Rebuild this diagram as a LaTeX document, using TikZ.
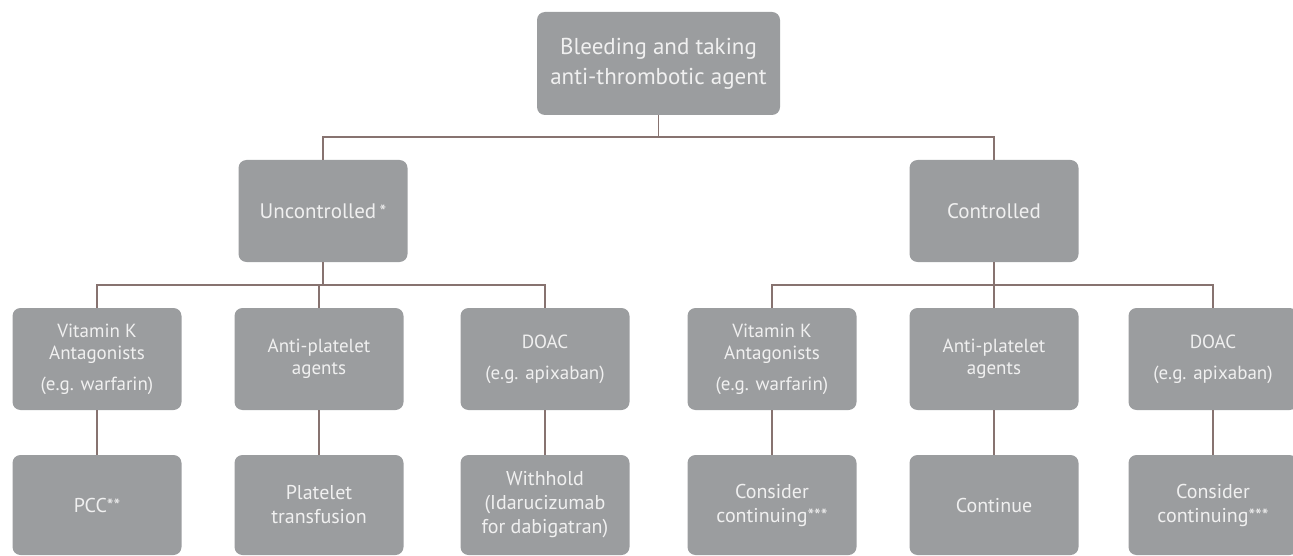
\documentclass[tikz,border=0pt]{standalone}
\usepackage{fontspec}
\setmainfont{PT Sans}
\newcommand{\myast}[1]{{\fontsize{19}{19}\selectfont #1}}
\begin{document}
\begin{tikzpicture}[x=1pt,y=-1pt,
  box/.style={fill=boxgray, rounded corners=8pt, text=boxtext, align=center,
    minimum width=169pt, minimum height=102pt, inner sep=2pt,
    font=\fontsize{19}{22}\selectfont},
  leaf/.style={box, minimum height=100pt, font=\fontsize{20}{24}\selectfont},
  conn/.style={draw=linecol, line width=1.1pt}]
\definecolor{boxgray}{RGB}{155,157,159}
\definecolor{boxtext}{RGB}{240,240,240}
\definecolor{linecol}{RGB}{135,115,112}
\useasboundingbox (0,0) rectangle (1293,556);
\node[box, minimum width=243pt, minimum height=103pt, font=\fontsize{23}{30}\selectfont] (top) at (658.5,63.5) {Bleeding and taking\\anti-thrombotic agent};
\node[box, font=\fontsize{21}{26}\selectfont] (unc) at (323,211) {Uncontrolled\,\myast{*}};
\node[box, font=\fontsize{21}{26}\selectfont] (con) at (994,211) {Controlled};
\node[box] (vk1) at (97,359) {Vitamin K\\Antagonists\\[9pt](e.g. warfarin)};
\node[box] (ap1) at (319,359) {Anti-platelet\\agents};
\node[box] (do1) at (545,359) {DOAC\\[9pt](e.g. apixaban)};
\node[box] (vk2) at (772,359) {Vitamin K\\Antagonists\\[9pt](e.g. warfarin)};
\node[box] (ap2) at (994,359) {Anti-platelet\\agents};
\node[box] (do2) at (1213,359) {DOAC\\[9pt](e.g. apixaban)};
\node[leaf] (r1) at (97,505) {PCC\myast{**}};
\node[leaf] (r2) at (319,505) {Platelet\\transfusion};
\node[leaf] (r3) at (545,505) {Withhold\\(Idarucizumab\\for dabigatran)};
\node[leaf] (r4) at (772,505) {Consider\\continuing\myast{***}};
\node[leaf] (r5) at (994,505) {Continue};
\node[leaf] (r6) at (1213,505) {Consider\\continuing\myast{***}};
\coordinate (h1) at (658.5,137);
\coordinate (h2) at (323,285);
\coordinate (h3) at (994,285);
\draw[conn] (top.south) -- (h1);
\draw[conn] (unc.north) |- (h1) -| (con.north);
\draw[conn] (unc.south) -- (h2);
\draw[conn] (vk1.north) |- (h2) -| (do1.north);
\draw[conn] (ap1.north) -- (ap1.north |- h2);
\draw[conn] (con.south) -- (h3);
\draw[conn] (vk2.north) |- (h3) -| (do2.north);
\draw[conn] (ap2.north) -- (ap2.north |- h3);
\draw[conn] (vk1) -- (r1);
\draw[conn] (ap1) -- (r2);
\draw[conn] (do1) -- (r3);
\draw[conn] (vk2) -- (r4);
\draw[conn] (ap2) -- (r5);
\draw[conn] (do2) -- (r6);
\end{tikzpicture}
\end{document}
